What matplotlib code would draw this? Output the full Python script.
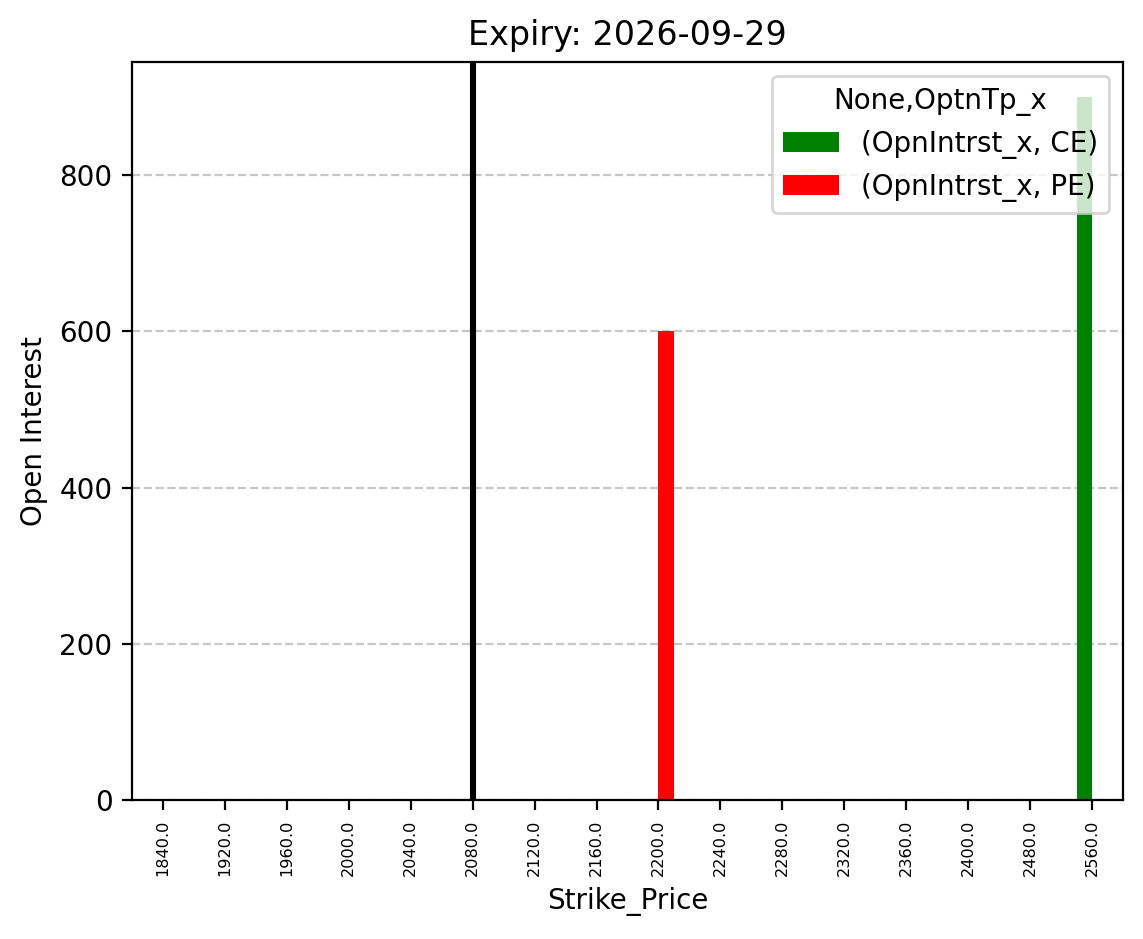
import numpy as np
import matplotlib
matplotlib.use('Agg')
import matplotlib.pyplot as plt

# datos del grafico
strikes = [1840.0, 1920.0, 1960.0, 2000.0, 2040.0, 2080.0, 2120.0, 2160.0,
           2200.0, 2240.0, 2280.0, 2320.0, 2360.0, 2400.0, 2480.0, 2560.0]
ce_oi = [0, 0, 0, 0, 0, 0, 0, 0, 0, 0, 0, 0, 0, 0, 0, 900]
pe_oi = [0, 0, 0, 0, 0, 0, 0, 0, 600, 0, 0, 0, 0, 0, 0, 0]
spot_strike = 2080.0
expiry = '2026-09-29'

fig = plt.figure(figsize=(5.715, 4.695), dpi=200)
ax = fig.add_axes([0.1155, 0.148, 0.867, 0.786])

pos = np.arange(len(strikes))
w = 0.25
ax.bar(pos - w/2, ce_oi, w, color='green', label='(OpnIntrst_x, CE)')
ax.bar(pos + w/2, pe_oi, w, color='red', label='(OpnIntrst_x, PE)')

ax.set_xticks(pos)
ax.set_xticklabels([str(s) for s in strikes], rotation=90, fontsize=5.8)
ax.set_xlim(-0.5, len(strikes) - 0.5)
ax.set_ylim(0, max(max(ce_oi), max(pe_oi)) * 1.05)

# linea vertical en el precio spot
ax.axvline(strikes.index(spot_strike), color='black', linewidth=2.2)

ax.grid(axis='y', linestyle='--', alpha=0.7)
ax.set_axisbelow(True)
ax.legend(title='None,OptnTp_x', loc='upper right')
ax.set_xlabel('Strike_Price')
ax.set_ylabel('Open Interest')
ax.set_title('Expiry: ' + expiry)

plt.savefig('out.png', dpi=200)
